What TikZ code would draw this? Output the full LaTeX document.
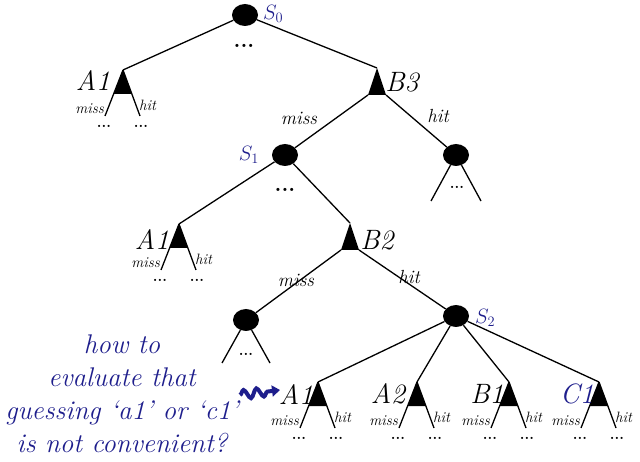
\documentclass[tikz,border=0pt]{standalone}
\usetikzlibrary{shapes.geometric,decorations.pathmorphing,arrows.meta}
\definecolor{ink}{RGB}{30,30,140}
\tikzset{
  st/.style={ellipse,fill=black,minimum width=26pt,minimum height=22pt,inner sep=0pt},
  edge/.style={line width=1.3pt},
  big/.style={font=\fontsize{28}{28}\selectfont\itshape,inner sep=0pt},
  sm/.style={font=\fontsize{15}{15}\selectfont\itshape,inner sep=0pt},
  med/.style={font=\fontsize{19}{19}\selectfont\itshape,inner sep=0pt},
  slab/.style={font=\fontsize{22}{22}\selectfont\itshape,text=ink,inner sep=0pt},
  dotsn/.style={font=\fontsize{15}{15}\selectfont\bfseries,inner sep=0pt},
  bigdots/.style={font=\fontsize{22}{22}\selectfont\bfseries,inner sep=0pt}
}
\newcommand\leaftri[3]{%
  \coordinate (#1) at (#2,#3);
  \coordinate (#1-l) at (#2-9.4,#3+24);
  \coordinate (#1-r) at (#2+9,#3+24);
  \coordinate (#1-ll) at (#2-18,#3+46);
  \coordinate (#1-rr) at (#2+17,#3+46);
  \fill (#1) -- (#1-l) -- (#1-r) -- cycle;
  \draw[edge] (#1) -- (#1-ll) (#1) -- (#1-rr);
  \node[sm,anchor=east] (#1-m) at (#2-19,#3+39) {miss};
  \node[sm,anchor=west] (#1-h) at (#2+16,#3+35) {hit};
  \node[dotsn] (#1-d1) at (#2-19,#3+56) {...};
  \node[dotsn] (#1-d2) at (#2+18,#3+56) {...};
}
\newcommand\inntri[3]{%
  \coordinate (#1) at (#2,#3);
  \coordinate (#1-l) at (#2-9,#3+27);
  \coordinate (#1-r) at (#2+9,#3+27);
  \fill (#1) -- (#1-l) -- (#1-r) -- cycle;
}
\begin{document}
\begin{tikzpicture}[x=1pt,y=-1pt]
\useasboundingbox (0,0) rectangle (640,462);
% state nodes
\node[st] (s0) at (245,15) {};
\node[slab,anchor=west] (s0l) at (263,14) {$S_0$};
\node[bigdots] (s0d) at (244,46) {...};
\node[st] (s1) at (285,155) {};
\node[slab] (s1l) at (249,155) {$S_1$};
\node[bigdots] (s1d) at (285,190) {...};
\node[st] (c1) at (456,155) {};
\node[st] (c2) at (246,320) {};
\node[st] (s2) at (456,316) {};
\node[slab,anchor=west] (s2l) at (475,318) {$S_2$};
% action triangles
\leaftri{a1}{123}{70}
\node[big] (a1t) at (93,81) {A1};
\inntri{b3}{377}{68}
\node[big] (b3t) at (402,82) {B3};
\leaftri{a1b}{179}{224}
\node[big] (a1bt) at (152,240) {A1};
\inntri{b2}{350}{223}
\node[big] (b2t) at (377,240) {B2};
\leaftri{a1c}{318}{382}
\node[big] (a1ct) at (296,395) {A1};
\leaftri{a2}{417}{382}
\node[big] (a2t) at (388,394) {A2};
\leaftri{b1}{509}{382}
\node[big] (b1t) at (487,394) {B1};
\leaftri{cc1}{599}{382}
\node[big,text=ink] (cc1t) at (577,394) {C1};
% edges
\draw[edge] (s0) -- (a1);
\draw[edge] (s0) -- (b3);
\draw[edge] (b3-l) -- (s1);
\draw[edge] (b3-r) -- (c1);
\node[med] (m1) at (299,118) {miss};
\node[med] (h1) at (438,116) {hit};
\draw[edge] (s1) -- (a1b);
\draw[edge] (s1) -- (b2);
\draw[edge] (b2-l) -- (c2);
\draw[edge] (b2-r) -- (s2);
\node[med] (m2) at (296,280) {miss};
\node[med] (h2) at (409,277) {hit};
\draw[edge] (s2) -- (a1c);
\draw[edge] (s2) -- (a2);
\draw[edge] (s2) -- (b1);
\draw[edge] (s2) -- (cc1);
% open subtrees under states
\coordinate (c1-ll) at (431,201);
\coordinate (c1-rr) at (481,201);
\draw[edge] (c1) -- (c1-ll) (c1) -- (c1-rr);
\node[dotsn] (c1d) at (457,187) {...};
\coordinate (c2-ll) at (222,363);
\coordinate (c2-rr) at (270,363);
\draw[edge] (c2) -- (c2-ll) (c2) -- (c2-rr);
\node[dotsn] (c2d) at (246,354) {...};
% question
\node[text=ink,align=center,font=\fontsize{27}{33}\selectfont\itshape] (q) at (122,394)
  {how to\\evaluate that\\guessing ‘a1’ or ‘c1’\\is not convenient?};
\coordinate (w1) at (240,395);
\coordinate (w2) at (280,390);
\draw[ink,line width=4pt,decorate,decoration={snake,amplitude=4.5pt,segment length=13pt,post length=7pt},-{Triangle[length=8pt,width=11pt]}] (w1) -- (w2);
\end{tikzpicture}
\end{document}
